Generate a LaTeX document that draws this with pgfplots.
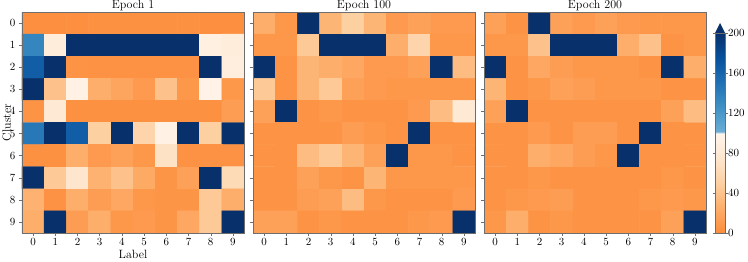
\documentclass[border=0pt]{standalone}
\usepackage{pgfplots}
\pgfplotsset{compat=1.18}
\pgfplotstableread{
x y c
0 0 2
1 0 2
2 0 2
3 0 3
4 0 3
5 0 3
6 0 3
7 0 3
8 0 2
9 0 2
0 1 135
1 1 86
2 1 200
3 1 200
4 1 200
5 1 200
6 1 200
7 1 200
8 1 92
9 1 86
0 2 165
1 2 200
2 2 5
3 2 4
4 2 4
5 2 4
6 2 4
7 2 4
8 2 200
9 2 88
0 3 200
1 3 40
2 3 95
3 3 25
4 3 18
5 3 10
6 3 40
7 3 8
8 3 97
9 3 8
0 4 5
1 4 80
2 4 3
3 4 3
4 4 3
5 4 3
6 4 3
7 4 3
8 4 3
9 4 12
0 5 145
1 5 200
2 5 165
3 5 50
4 5 200
5 5 55
6 5 95
7 5 200
8 5 50
9 5 200
0 6 3
1 6 3
2 6 25
3 6 10
4 6 15
5 6 8
6 6 70
7 6 4
8 6 4
9 6 4
0 7 200
1 7 45
2 7 75
3 7 28
4 7 40
5 7 22
6 7 6
7 7 15
8 7 200
9 7 62
0 8 28
1 8 4
2 8 25
3 8 12
4 8 20
5 8 8
6 8 6
7 8 6
8 8 45
9 8 25
0 9 25
1 9 200
2 9 12
3 9 25
4 9 8
5 9 10
6 9 6
7 9 20
8 9 45
9 9 200
}\epochA
\pgfplotstableread{
x y c
0 0 25
1 0 8
2 0 200
3 0 30
4 0 50
5 0 30
6 0 10
7 0 15
8 0 10
9 0 10
0 1 8
1 1 8
2 1 45
3 1 200
4 1 200
5 1 200
6 1 25
7 1 55
8 1 8
9 1 8
0 2 200
1 2 5
2 2 30
3 2 25
4 2 20
5 2 10
6 2 10
7 2 15
8 2 200
9 2 35
0 3 45
1 3 5
2 3 30
3 3 45
4 3 15
5 3 10
6 3 8
7 3 8
8 3 8
9 3 8
0 4 15
1 4 200
2 4 5
3 4 8
4 4 5
5 4 5
6 4 5
7 4 10
8 4 35
9 4 80
0 5 5
1 5 5
2 5 5
3 5 5
4 5 12
5 5 8
6 5 5
7 5 200
8 5 5
9 5 5
0 6 5
1 6 5
2 6 35
3 6 45
4 6 30
5 6 15
6 6 200
7 6 8
8 6 8
9 6 5
0 7 5
1 7 5
2 7 15
3 7 8
4 7 5
5 7 30
6 7 8
7 7 8
8 7 8
9 7 8
0 8 5
1 8 5
2 8 12
3 8 15
4 8 35
5 8 8
6 8 5
7 8 5
8 8 5
9 8 10
0 9 15
1 9 15
2 9 5
3 9 8
4 9 5
5 9 5
6 9 5
7 9 8
8 9 10
9 9 200
}\epochB
\pgfplotstableread{
x y c
0 0 15
1 0 5
2 0 200
3 0 15
4 0 10
5 0 15
6 0 10
7 0 8
8 0 8
9 0 8
0 1 8
1 1 8
2 1 40
3 1 200
4 1 200
5 1 200
6 1 25
7 1 40
8 1 5
9 1 8
0 2 200
1 2 5
2 2 20
3 2 12
4 2 8
5 2 8
6 2 8
7 2 5
8 2 200
9 2 25
0 3 30
1 3 5
2 3 8
3 3 15
4 3 12
5 3 8
6 3 8
7 3 8
8 3 5
9 3 5
0 4 15
1 4 200
2 4 5
3 4 5
4 4 5
5 4 5
6 4 5
7 4 5
8 4 15
9 4 35
0 5 5
1 5 5
2 5 10
3 5 5
4 5 12
5 5 12
6 5 5
7 5 200
8 5 5
9 5 5
0 6 5
1 6 5
2 6 25
3 6 20
4 6 12
5 6 8
6 6 200
7 6 5
8 6 5
9 6 5
0 7 5
1 7 5
2 7 8
3 7 5
4 7 5
5 7 5
6 7 5
7 7 5
8 7 8
9 7 5
0 8 5
1 8 8
2 8 10
3 8 12
4 8 5
5 8 5
6 8 5
7 8 8
8 8 10
9 8 8
0 9 8
1 9 25
2 9 5
3 9 8
4 9 5
5 9 5
6 9 5
7 9 5
8 9 15
9 9 200
}\epochC
\definecolor{navyc}{RGB}{8,48,107}
\definecolor{framec}{RGB}{110,110,110}
\pgfplotsset{
  colormap={orbl}{rgb255(0)=(253,141,60) rgb255(25)=(253,174,107) rgb255(50)=(253,208,162) rgb255(75)=(254,230,206) rgb255(100)=(255,245,235) rgb255(101)=(107,174,214) rgb255(125)=(66,146,198) rgb255(150)=(33,113,181) rgb255(175)=(8,81,156) rgb255(200)=(8,48,107)},
  hm/.style={
    scale only axis, width=222pt, height=221pt,
    xmin=-0.5, xmax=9.5, ymin=-0.5, ymax=9.5, y dir=reverse,
    xtick={0,...,9}, ytick={0,...,9},
    tick align=outside, tick pos=left,
    major tick length=3pt,
    axis line style={framec, line width=0.6pt},
    every tick/.style={framec},
    point meta min=0, point meta max=200,
    colormap name=orbl,
    tick label style={font=\fontsize{11}{12}\selectfont},
    label style={font=\fontsize{12}{13}\selectfont},
    title style={font=\fontsize{12}{13}\selectfont, yshift=-8pt},
    xticklabel style={yshift=1pt},
    axis on top,
  },
}
\begin{document}
\begin{tikzpicture}
\path[use as bounding box] (0,0) rectangle (748pt,262pt);
\begin{axis}[hm, at={(22pt,29pt)}, anchor=south west, title={Epoch 1}, xlabel={Label}, ylabel={Cluster},
  xlabel style={yshift=2pt}, ylabel style={yshift=-8pt}]
\addplot[matrix plot*, mesh/cols=10, point meta=explicit] table[x=x, y=y, meta=c] {\epochA};
\end{axis}
\begin{axis}[hm, at={(253pt,29pt)}, anchor=south west, title={Epoch 100}, yticklabels={}]
\addplot[matrix plot*, mesh/cols=10, point meta=explicit] table[x=x, y=y, meta=c] {\epochB};
\end{axis}
\begin{axis}[hm, at={(484pt,29pt)}, anchor=south west, title={Epoch 200}, yticklabels={},
  colorbar,
  colorbar style={
    scale only axis, width=10pt, height=200pt,
    at={(parent axis.south east)}, anchor=south west, xshift=0.5pt,
    ytick={0,40,...,200}, tick align=outside, major tick length=2.5pt,
    axis line style={framec, line width=0.6pt},
    every tick/.style={framec},
    yticklabel style={font=\fontsize{10.5}{12}\selectfont, xshift=-3pt},
    after end axis/.code={\fill[navyc] (rel axis cs:0,1) -- (rel axis cs:1,1) -- (rel axis cs:0.5,1.05) -- cycle;},
  }]
\addplot[matrix plot*, mesh/cols=10, point meta=explicit] table[x=x, y=y, meta=c] {\epochC};
\end{axis}
\end{tikzpicture}
\end{document}
